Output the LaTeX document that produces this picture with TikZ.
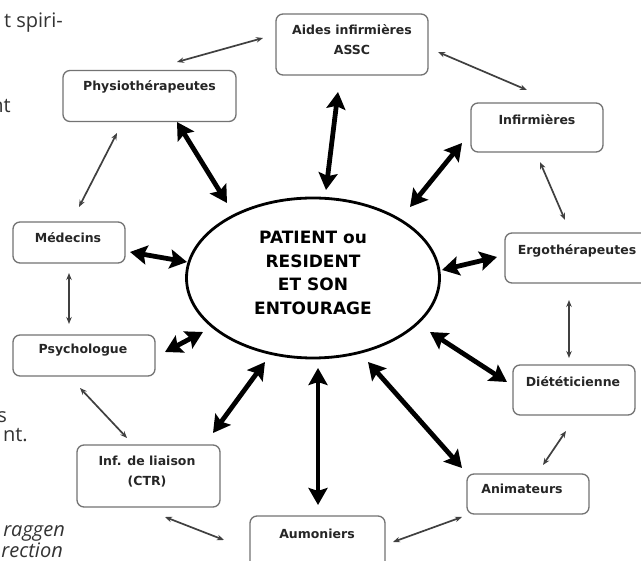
\documentclass[tikz,border=0pt]{standalone}
\usepackage{fontspec}
\setmainfont{DejaVu Sans}
\newfontfamily\pagefont{Open Sans}
\usetikzlibrary{arrows.meta,shapes.geometric}
\tikzset{
  box/.style={draw=black!55, line width=1.3pt, rounded corners=7pt, fill=white, inner sep=0pt},
  lbl/.style={font=\bfseries\fontsize{12.5}{20}\selectfont, text=black!85, align=center, inner sep=0pt},
  bigarrow/.style={line width=4.8pt, {Stealth[length=17pt,width=19pt,inset=3pt]}-{Stealth[length=17pt,width=19pt,inset=3pt]}},
  smallarrow/.style={line width=1.7pt, draw=black!75, {Stealth[length=7pt,width=5.5pt]}-{Stealth[length=7pt,width=5.5pt]}},
  pagetxt/.style={font=\pagefont\fontsize{20}{22}\selectfont, text=black!80, inner sep=0pt, anchor=base east},
  pageit/.style={pagetxt, font=\pagefont\itshape\fontsize{20}{22}\selectfont}
}
\begin{document}
\begin{tikzpicture}[x=1pt,y=-1pt]
\useasboundingbox (0,0) rectangle (641,561);
\clip (0,0) rectangle (641,561);
\fill[white] (0,0) rectangle (641,561);

% page text fragments
\node[pagetxt] (f1) at (63,28) {t spiri-};
\node[pagetxt] (f2) at (11,113) {nt};
\node[pagetxt] (f3) at (7,423) {s};
\node[pagetxt] (f4) at (28,442) {nt.};
\node[pageit] (f5) at (65,537) {raggen};
\node[pageit] (f6) at (63,558) {rection};

% boxes
\node[box, minimum width=152, minimum height=61] (aides) at (352,44.5) {};
\node[box, minimum width=173, minimum height=51] (physio) at (149.5,96) {};
\node[box, minimum width=132, minimum height=49] (infirm) at (537,127.5) {};
\node[box, minimum width=112, minimum height=41] (med) at (69,242.5) {};
\node[box, minimum width=142, minimum height=41] (psy) at (84,355.5) {};
\node[box, minimum width=150, minimum height=50] (ergo) at (580,258) {};
\node[box, minimum width=122, minimum height=50] (diet) at (574,390) {};
\node[box, minimum width=143, minimum height=62] (liaison) at (148.5,476) {};
\node[box, minimum width=122, minimum height=40] (anim) at (528,494) {};
\node[box, minimum width=135, minimum height=58] (aumon) at (317.5,545) {};

% box texts
\node[lbl] (aides-t) at (352,40) {Aides infirmières\\ASSC};
\node[lbl] (physio-t) at (149.5,87) {Physiothérapeutes};
\node[lbl] (infirm-t) at (537,120) {Infirmières};
\node[lbl] (med-t) at (68,238) {Médecins};
\node[lbl] (psy-t) at (83,350) {Psychologue};
\node[lbl] (ergo-t) at (577,251) {Ergothérapeutes};
\node[lbl] (diet-t) at (573,382) {Diététicienne};
\node[lbl] (liaison-t) at (147,472) {Inf. de liaison\\(CTR)};
\node[lbl] (anim-t) at (522,489) {Animateurs};
\node[lbl] (aumon-t) at (317,534) {Aumoniers};

% central ellipse
\node[ellipse, draw, line width=2.8pt, minimum width=253, minimum height=160, inner sep=0pt] (ell) at (313,278) {};
\node[font=\bfseries\fontsize{17}{23.5}\selectfont, align=center, inner sep=0pt] (ell-t) at (313,273)
  {PATIENT ou\\RESIDENT\\ET SON\\ENTOURAGE};

% thick arrows
\draw[bigarrow] ([shift={(27.5,26)}]physio.center) -- ([shift={(-86,-75)}]ell.center);
\draw[bigarrow] ([shift={(-14,47.5)}]aides.center) -- ([shift={(13,-88)}]ell.center);
\draw[bigarrow] ([shift={(-75,15.5)}]infirm.center) -- ([shift={(97,-71)}]ell.center);
\draw[bigarrow] ([shift={(61,9.5)}]med.center) -- ([shift={(-126,-16)}]ell.center);
\draw[bigarrow] ([shift={(-83,-1)}]ergo.center) -- ([shift={(129,-8)}]ell.center);
\draw[bigarrow] ([shift={(81,-3.5)}]psy.center) -- ([shift={(-110,54)}]ell.center);
\draw[bigarrow] ([shift={(64.5,-43)}]liaison.center) -- ([shift={(-48,84)}]ell.center);
\draw[bigarrow] ([shift={(0.5,-40)}]aumon.center) -- ([shift={(5,90)}]ell.center);
\draw[bigarrow] ([shift={(-66,-26)}]anim.center) -- ([shift={(55,84)}]ell.center);
\draw[bigarrow] ([shift={(-67,-8)}]diet.center) -- ([shift={(117,54)}]ell.center);

% thin arrows
\draw[smallarrow] ([shift={(27.5,-34)}]physio.center) -- ([shift={(-89,-6.5)}]aides.center);
\draw[smallarrow] ([shift={(86,7.5)}]aides.center) -- ([shift={(-10,-37.5)}]infirm.center);
\draw[smallarrow] ([shift={(3,34.5)}]infirm.center) -- ([shift={(-15,-38)}]ergo.center);
\draw[smallarrow] ([shift={(-11,42)}]ergo.center) -- ([shift={(-5,-32)}]diet.center);
\draw[smallarrow] ([shift={(-8,41)}]diet.center) -- ([shift={(15,-29)}]anim.center);
\draw[smallarrow] ([shift={(-66,23)}]anim.center) -- ([shift={(75.5,-3)}]aumon.center);
\draw[smallarrow] ([shift={(-93.5,-5)}]aumon.center) -- ([shift={(16.5,41)}]liaison.center);
\draw[smallarrow] ([shift={(-21.5,-38)}]liaison.center) -- ([shift={(-4,32.5)}]psy.center);
\draw[smallarrow] ([shift={(-15,-31.5)}]psy.center) -- ([shift={(0,30.5)}]med.center);
\draw[smallarrow] ([shift={(10,-35.5)}]med.center) -- ([shift={(-32.5,37)}]physio.center);
\end{tikzpicture}
\end{document}
